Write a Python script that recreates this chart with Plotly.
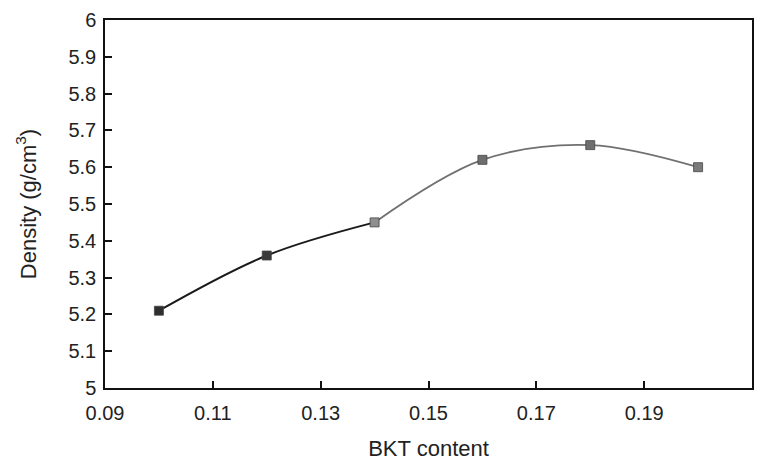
import plotly.graph_objects as go

# BKT content vs. sintered density
bkt_content = [0.10, 0.12, 0.14, 0.16, 0.18, 0.20]
density = [5.21, 5.36, 5.45, 5.62, 5.66, 5.60]

x_ticks = [0.09, 0.11, 0.13, 0.15, 0.17, 0.19, 0.21]
y_ticks = [5, 5.1, 5.2, 5.3, 5.4, 5.5, 5.6, 5.7, 5.8, 5.9, 6]

marker_colors = ["#2e2e2e", "#3a3a3a", "#8f8f8f", "#6e6e6e", "#6e6e6e", "#7a7a7a"]

FONT = "Liberation Sans, Arial, sans-serif"

fig = go.Figure()

# low-content part of the curve (dark)
fig.add_trace(go.Scatter(
    x=bkt_content[:3], y=density[:3], mode="lines",
    line=dict(shape="spline", smoothing=1.0, color="#1a1a1a", width=2),
    hoverinfo="skip", showlegend=False,
))
# high-content part of the curve (grey)
fig.add_trace(go.Scatter(
    x=bkt_content[2:], y=density[2:], mode="lines",
    line=dict(shape="spline", smoothing=1.0, color="#707070", width=1.8),
    hoverinfo="skip", showlegend=False,
))
fig.add_trace(go.Scatter(
    x=bkt_content, y=density, mode="markers",
    marker=dict(symbol="square", size=9, color=marker_colors,
                line=dict(color="#444444", width=0.8)),
    showlegend=False,
))

tick_font = dict(family=FONT, size=20, color="#222222")
title_font = dict(family=FONT, size=22, color="#222222")

fig.update_xaxes(
    range=[0.09, 0.21], tickvals=x_ticks,
    ticktext=[f"{v:.2f}" for v in x_ticks],
    ticks="inside", ticklen=7, tickwidth=1.5, tickcolor="#111111",
    showline=True, linecolor="#111111", linewidth=1.5, mirror=True,
    showgrid=False, zeroline=False, automargin=False,
    tickfont=tick_font, ticklabelstandoff=6,
    title=dict(text="BKT content", font=title_font, standoff=18),
)
fig.update_yaxes(
    range=[5, 6], tickvals=y_ticks,
    ticktext=[("%g" % v) for v in y_ticks],
    ticks="inside", ticklen=7, tickwidth=1.5, tickcolor="#111111",
    showline=True, linecolor="#111111", linewidth=1.5, mirror=True,
    showgrid=False, zeroline=False, automargin=False,
    tickfont=tick_font, ticklabelstandoff=3,
    title=dict(text="Density (g/cm<sup>3</sup>)", font=title_font, standoff=26),
)

fig.update_layout(
    width=764, height=464,
    margin=dict(l=105, r=12, t=20, b=76),
    paper_bgcolor="white", plot_bgcolor="white",
)

fig.write_html("out.html")
